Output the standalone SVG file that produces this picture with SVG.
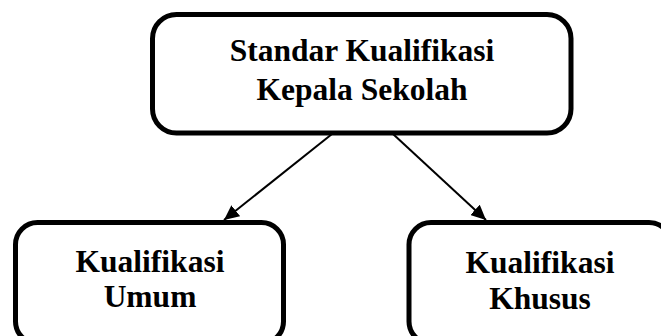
<svg xmlns="http://www.w3.org/2000/svg" width="661" height="336" viewBox="0 0 661 336">
  <style>
    .box { fill: #ffffff; stroke: #000000; stroke-width: 5; }
    .label { font-family: "Liberation Serif", "Times New Roman", serif; font-weight: bold; font-size: 31.5px; fill: #000000; text-anchor: middle; }
    .link { fill: none; stroke: #000000; stroke-width: 2; }
  </style>
  <defs>
    <marker id="arrow" markerUnits="userSpaceOnUse" markerWidth="16" markerHeight="14" refX="15" refY="7" orient="auto">
      <path d="M0,0 L15,7 L0,14 z" fill="#000000"/>
    </marker>
  </defs>
  <rect width="661" height="336" fill="#ffffff"/>

  <g id="connectors">
    <line class="link" x1="332" y1="134" x2="224" y2="220" marker-end="url(#arrow)"/>
    <line class="link" x1="393" y1="134" x2="486" y2="220" marker-end="url(#arrow)"/>
  </g>

  <g id="node-standar">
    <rect class="box" x="152.5" y="14.5" width="418.5" height="118.5" rx="24"/>
    <text class="label" x="362" y="61">Standar Kualifikasi</text>
    <text class="label" x="362" y="100">Kepala Sekolah</text>
  </g>

  <g id="node-umum">
    <rect class="box" x="15.5" y="222.5" width="268" height="121" rx="22"/>
    <text class="label" x="150" y="272">Kualifikasi</text>
    <text class="label" x="150" y="307">Umum</text>
  </g>

  <g id="node-khusus">
    <rect class="box" x="409" y="222.5" width="262" height="121" rx="22"/>
    <text class="label" x="540" y="273">Kualifikasi</text>
    <text class="label" x="540" y="308.5">Khusus</text>
  </g>
</svg>
